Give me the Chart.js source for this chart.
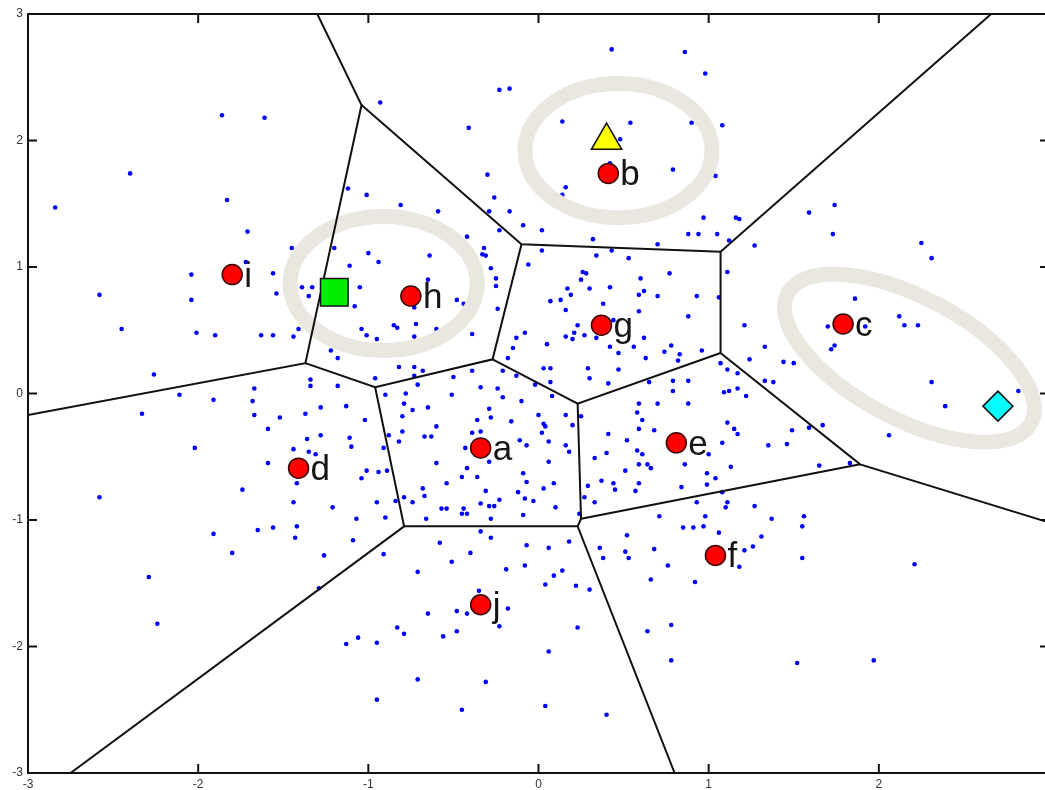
<!DOCTYPE html>
<html>
<head>
<meta charset="utf-8">
<script src="https://cdn.jsdelivr.net/npm/chart.js@4/dist/chart.umd.min.js"></script>
<style>
  html, body { margin: 0; padding: 0; background: #ffffff; overflow: hidden; }
  #plot { display: block; }
</style>
</head>
<body>
<canvas id="plot" width="1045" height="790"></canvas>
<script>
// Axis ticks
const tickValues = [-3, -2, -1, 0, 1, 2, 3];

// Sample points (blue dots)
const samples = [
  [-1.86,2.20],[-1.61,2.18],[-2.40,1.74],[-2.84,1.47],[-1.83,1.53],[-1.71,1.28],[-2.04,0.94],[-2.58,0.78],[-2.04,0.74],[-2.45,0.51],
  [-2.01,0.48],[-1.90,0.46],[-1.63,0.46],[-1.56,0.46],[-1.44,0.45],[-1.41,0.51],[-1.56,0.95],[-1.54,0.79],[-1.45,1.15],[-1.39,0.84],
  [-1.33,0.84],[-1.35,0.77],[-1.72,1.04],[-2.26,0.15],[-0.93,2.30],[-0.23,2.40],[-0.17,2.41],[-0.41,2.10],[-1.12,1.62],[-1.01,1.57],
  [-0.81,1.49],[-0.59,1.44],[-0.30,1.73],[-0.26,1.55],[-0.29,1.44],[-0.17,1.44],[-0.09,1.33],[-0.23,1.29],[-0.42,1.24],[-0.32,1.15],
  [-0.31,1.09],[-0.33,1.10],[-0.28,0.99],[-0.25,0.91],[-0.25,0.85],[-0.06,1.02],[-0.24,0.67],[-0.48,0.74],[-0.44,0.71],[-0.65,0.90],
  [-0.64,1.09],[-0.94,1.04],[-1.00,1.11],[-1.11,1.01],[-1.20,1.15],[-1.05,0.84],[-1.08,0.69],[-1.04,0.51],[-1.01,0.46],[-0.95,0.43],
  [-0.85,0.54],[-0.83,0.52],[-0.72,0.55],[-0.73,0.45],[-0.39,0.47],[-0.13,0.44],[-0.08,0.48],[-0.15,0.36],[-0.18,0.28],[-0.73,0.68],
  [-0.60,0.51],[-1.22,0.34],[-1.18,0.28],[-0.82,0.21],[-0.73,0.21],[-0.68,0.18],[-0.73,0.14],[-0.96,0.12],[-1.34,0.11],[-1.34,0.06],
  [-1.18,0.06],[-1.67,0.04],[-0.71,0.07],[-0.50,0.13],[-0.39,0.18],[-0.34,0.05],[-0.24,0.04],[-0.02,0.07],[-0.13,0.14],[-0.21,0.18],
  [-0.78,0.00],
  [0.43,2.72],[0.86,2.70],[0.98,2.53],[0.14,2.15],[0.54,2.14],[0.90,2.14],[1.08,2.12],[0.48,2.01],[0.42,1.82],[0.79,1.77],
  [0.16,1.63],[0.14,1.57],[1.04,1.72],[0.02,1.29],[0.32,1.22],[0.97,1.39],[1.16,1.39],[1.18,1.38],[0.88,1.26],[0.94,1.26],
  [1.05,1.26],[1.12,1.21],[0.70,1.18],[1.27,1.17],[0.02,1.13],[0.43,1.13],[0.34,1.09],[0.53,1.07],[1.59,1.43],[1.74,1.49],
  [1.73,1.26],[2.25,1.19],[2.31,1.07],[1.11,0.96],[0.77,0.95],[0.26,0.96],[0.28,0.95],[0.25,0.90],[0.60,0.91],[0.17,0.83],
  [0.19,0.78],[0.30,0.83],[0.42,0.84],[0.59,0.78],[0.62,0.81],[0.70,0.77],[0.93,0.77],[1.06,0.76],[0.07,0.73],[0.13,0.74],
  [0.16,0.66],[0.38,0.71],[0.59,0.65],[0.88,0.61],[0.23,0.54],[0.21,0.48],[0.16,0.45],[0.20,0.43],[0.27,0.46],[0.44,0.58],
  [0.34,0.44],[0.05,0.39],[0.42,0.37],[0.47,0.32],[0.56,0.37],[0.62,0.44],[0.78,0.38],[0.74,0.33],[0.83,0.31],[0.96,0.34],
  [0.63,0.28],[0.82,0.26],[0.03,0.20],[0.07,0.20],[0.29,0.20],[0.47,0.19],[0.30,0.12],[0.41,0.08],[0.07,0.09],[0.65,0.09],
  [0.79,0.10],[0.88,0.10],[0.79,0.02],[1.07,0.24],[1.11,0.19],[1.17,0.16],[1.09,0.01],[1.12,0.02],[1.17,0.04],[1.21,0.54],
  [1.33,0.37],[1.24,0.27],[1.44,0.25],[1.33,0.10],[1.38,0.09],[1.64,0.96],[1.86,0.75],[2.12,0.61],[2.15,0.54],[2.23,0.54],
  [1.92,0.53],[1.72,0.35],[1.74,0.38],[2.31,0.09],[2.82,0.02],[1.70,0.53],[1.50,0.24],
  [-2.33,-0.16],[-2.11,-0.01],[-1.91,-0.05],[-1.68,-0.06],[-1.67,-0.17],[-1.52,-0.19],[-1.37,-0.16],[-1.28,-0.11],[-1.13,-0.10],[-1.59,-0.28],
  [-1.36,-0.36],[-1.28,-0.33],[-1.11,-0.35],[-1.10,-0.42],[-2.02,-0.43],[-1.44,-0.44],[-1.35,-0.46],[-1.31,-0.48],[-1.59,-0.55],[-1.42,-0.71],
  [-1.74,-0.76],[-2.58,-0.82],[-1.44,-0.86],[-1.21,-0.90],[-1.07,-0.99],[-1.91,-1.11],[-1.65,-1.08],[-1.56,-1.06],[-1.42,-1.05],[-1.43,-1.14],
  [-1.09,-1.16],[-1.80,-1.26],[-1.26,-1.28],[-2.29,-1.45],[-1.29,-1.54],[-2.24,-1.82],[-1.02,-0.21],[-1.01,-0.61],[-0.94,-0.62],[-0.89,-0.61],
  [-1.04,-0.67],[-0.95,-0.86],[-0.90,-0.98],[-0.91,-1.27],[-0.91,-0.43],[-0.88,-0.33],[-0.90,-0.01],[-0.79,-0.08],[-0.74,-0.13],[-0.65,-0.11],
  [-0.80,-0.18],[-0.80,-0.30],[-0.82,-0.38],[-0.67,-0.34],[-0.63,-0.34],[-0.60,-0.26],[-0.60,-0.55],[-0.84,-0.85],[-0.79,-0.82],[-0.74,-0.86],
  [-0.68,-0.75],[-0.67,-0.81],[-0.66,-0.99],[-0.57,-0.91],[-0.54,-0.91],[-0.54,-0.71],[-0.45,-0.66],[-0.42,-0.59],[-0.36,-0.66],[-0.43,-0.43],
  [-0.39,-0.31],[-0.34,-0.30],[-0.36,-0.21],[-0.29,-0.12],[-0.28,-0.19],[-0.29,-0.54],[-0.31,-0.77],[-0.34,-0.87],[-0.29,-0.89],[-0.26,-0.89],
  [-0.23,-0.84],[-0.44,-0.91],[-0.45,-0.95],[-0.42,-0.95],[-0.28,-0.99],[-0.16,-0.22],[-0.11,-0.37],[-0.07,-0.41],[-0.09,-0.63],[-0.07,-0.70],
  [-0.12,-0.78],[-0.08,-0.83],[-0.03,-0.85],[-0.09,-0.96],[-0.21,-0.03],[-0.10,-0.06],[-0.51,-0.01],[-0.58,-1.18],[-0.40,-1.26],[-0.34,-1.09],
  [-0.28,-1.14],[-0.51,-1.33],[-0.71,-1.41],[-0.19,-1.39],[-0.08,-1.36],[-0.07,-1.20],[-0.35,-1.56],[-0.65,-1.74],[-0.48,-1.72],[-0.42,-1.74],
  [-0.18,-1.70],[-0.23,-1.84],[-0.83,-1.85],[-0.79,-1.90],[-0.48,-1.88],[-0.56,-1.92],[-1.06,-1.93],[-1.13,-1.98],[-0.95,-1.97],[-0.71,-2.26],
  [-0.31,-2.28],[-0.95,-2.42],[-0.45,-2.50],
  [0.08,-0.02],[0.00,-0.17],[0.03,-0.24],[0.04,-0.26],[0.02,-0.31],[0.06,-0.38],[0.16,-0.17],[0.20,-0.25],[0.25,-0.18],[0.16,-0.41],
  [0.18,-0.46],[0.06,-0.54],[0.09,-0.71],[0.03,-0.75],[0.10,-0.90],[0.24,-0.95],[0.29,-0.73],[0.27,-0.82],[0.33,-0.86],[0.33,-0.51],
  [0.40,-0.47],[0.37,-0.69],[0.44,-0.71],[0.45,-0.76],[0.41,-0.32],[0.52,-0.37],[0.51,-0.61],[0.58,-0.45],[0.61,-0.48],[0.59,-0.56],
  [0.64,-0.56],[0.66,-0.59],[0.59,-0.71],[0.57,-0.77],[0.59,-0.08],[0.58,-0.15],[0.61,-0.21],[0.59,-0.28],[0.68,-0.29],[0.70,-0.08],
  [0.88,-0.08],[1.11,-0.23],[1.15,-0.28],[1.17,-0.32],[1.08,-0.39],[0.86,-0.56],[1.00,-0.48],[0.99,-0.63],[1.04,-0.67],[0.99,-0.72],
  [1.13,-0.58],[0.84,-0.74],[1.08,-0.78],[1.11,-0.86],[1.10,-0.90],[0.93,-0.86],[0.98,-0.97],[0.97,-1.05],[0.91,-1.06],[0.85,-1.06],
  [0.71,-0.97],[1.06,-1.10],[1.27,-0.89],[1.37,-0.99],[1.56,-0.97],[1.55,-1.05],[1.31,-1.13],[1.26,-1.21],[1.21,-1.24],[1.18,-1.37],
  [1.55,-1.30],[2.21,-1.35],[1.35,-0.41],[1.46,-0.40],[1.49,-0.29],[1.59,-0.27],[1.67,-0.25],[1.65,-0.57],[1.83,-0.55],[2.06,-0.33],
  [2.39,-0.10],[1.22,-0.02],[0.52,-1.12],[0.36,-1.22],[0.38,-1.30],[0.51,-1.25],[0.53,-1.30],[0.68,-1.23],[0.76,-1.36],[0.66,-1.47],
  [0.92,-1.49],[0.18,-1.17],[0.06,-1.22],[0.14,-1.40],[0.09,-1.44],[0.04,-1.51],[0.22,-1.52],[0.30,-1.55],[0.23,-1.85],[0.06,-2.04],
  [0.64,-1.88],[0.78,-1.83],[0.78,-2.11],[1.52,-2.13],[1.97,-2.11],[0.04,-2.47],[0.40,-2.54]
];

// Cluster centres (red circles) and their names
const siteNames = ['a', 'b', 'c', 'd', 'e', 'f', 'g', 'h', 'i', 'j'];
const siteX = [-0.34, 0.41, 1.79, -1.41, 0.81, 1.04, 0.37, -0.75, -1.80, -0.34];
const siteY = [-0.43, 1.74, 0.55, -0.59, -0.39, -1.28, 0.54, 0.77, 0.94, -1.67];

// Query markers: triangle, square, diamond
const probeX = [0.40, -1.20, 2.70];
const probeY = [2.00, 0.80, -0.10];

// Highlight rings: centre, semi-axes (x units, y units), tilt in degrees
const ringX = [-0.91, 0.47, 2.18];
const ringY = [0.87, 1.92, 0.28];
const ringRX = [0.55, 0.55, 0.81];
const ringRY = [0.53, 0.53, 0.48];
const ringTilt = [0, 0, 28];

// Voronoi cell boundaries as polylines
const cellEdges = [
  [[-1.30, 3.00], [-1.04, 2.28], [-1.37, 0.24], [-3.00, -0.17]],
  [[-1.04, 2.28], [-0.10, 1.18], [1.07, 1.12], [2.66, 3.00]],
  [[-1.37, 0.24], [-0.96, 0.05], [-0.27, 0.27], [-0.10, 1.18]],
  [[1.07, 1.12], [1.07, 0.32], [1.89, -0.56], [3.00, -1.02]],
  [[-0.27, 0.27], [0.23, -0.08], [1.07, 0.32]],
  [[0.23, -0.08], [0.25, -0.99], [1.89, -0.56]],
  [[0.25, -0.99], [0.23, -1.05], [0.80, -3.00]],
  [[-0.96, 0.05], [-0.79, -1.05], [0.23, -1.05]],
  [[-0.79, -1.05], [-2.75, -3.00]]
];

const edgeDatasets = cellEdges.map(path => ({
  type: 'scatter',
  data: path.map(p => ({ x: p[0], y: p[1] })),
  showLine: true,
  borderColor: '#111111',
  borderWidth: 2,
  pointRadius: 0,
  tension: 0,
  fill: false,
  order: 2
}));

// The plot box runs a few pixels past the right edge of the canvas
const overhangPlugin = {
  id: 'overhang',
  afterLayout(chart) {
    const extra = 4;
    const xs = chart.scales.x;
    xs.right += extra;
    xs.width += extra;
    xs.configure();
    chart.chartArea.right += extra;
    chart.chartArea.width += extra;
  }
};

// Rings are painted right after the blue samples so lines and markers sit on top
const ringPlugin = {
  id: 'rings',
  afterDatasetDraw(chart, args) {
    if (args.index !== 0) return;
    const { ctx, chartArea } = chart;
    const xs = chart.scales.x, ys = chart.scales.y;
    ctx.save();
    ctx.beginPath();
    ctx.rect(chartArea.left, chartArea.top, chartArea.right - chartArea.left, chartArea.bottom - chartArea.top);
    ctx.clip();
    ctx.strokeStyle = '#e9e7df';
    ctx.lineWidth = 15;
    for (let i = 0; i < ringX.length; i++) {
      const cx = xs.getPixelForValue(ringX[i]);
      const cy = ys.getPixelForValue(ringY[i]);
      const rx = Math.abs(xs.getPixelForValue(ringX[i] + ringRX[i]) - cx);
      const ry = Math.abs(ys.getPixelForValue(ringY[i] + ringRY[i]) - cy);
      ctx.beginPath();
      ctx.ellipse(cx, cy, rx, ry, ringTilt[i] * Math.PI / 180, 0, Math.PI * 2);
      ctx.stroke();
    }
    ctx.restore();
  }
};

// Letter next to each cluster centre
const labelPlugin = {
  id: 'siteLabels',
  afterDatasetsDraw(chart) {
    const { ctx } = chart;
    const xs = chart.scales.x, ys = chart.scales.y;
    ctx.save();
    ctx.font = '35px "Liberation Sans", Arial, sans-serif';
    ctx.fillStyle = '#151515';
    ctx.textAlign = 'left';
    ctx.textBaseline = 'alphabetic';
    siteNames.forEach((name, i) => {
      const px = xs.getPixelForValue(siteX[i]);
      const py = ys.getPixelForValue(siteY[i]);
      ctx.fillText(name, px + 12, py + 12);
    });
    ctx.restore();
  }
};

// Box frame with inward tick marks on all four sides
const framePlugin = {
  id: 'frame',
  afterDraw(chart) {
    const { ctx, chartArea: a } = chart;
    const xs = chart.scales.x, ys = chart.scales.y;
    const len = 9;
    ctx.save();
    ctx.strokeStyle = '#111111';
    ctx.lineWidth = 2;
    ctx.strokeRect(a.left, a.top, a.right - a.left, a.bottom - a.top);
    ctx.beginPath();
    tickValues.forEach(v => {
      const px = xs.getPixelForValue(v);
      ctx.moveTo(px, a.bottom); ctx.lineTo(px, a.bottom - len);
      ctx.moveTo(px, a.top); ctx.lineTo(px, a.top + len);
      const py = ys.getPixelForValue(v);
      ctx.moveTo(a.left, py); ctx.lineTo(a.left + len, py);
      ctx.moveTo(a.right, py); ctx.lineTo(a.right - len, py);
    });
    ctx.stroke();
    ctx.restore();
  }
};

const tickFont = { family: '"Liberation Sans", Arial, sans-serif', size: 12 };

new Chart(document.getElementById('plot'), {
  type: 'scatter',
  data: {
    datasets: [
      {
        data: samples.map(p => ({ x: p[0], y: p[1] })),
        pointRadius: 2.3,
        pointBackgroundColor: '#0000ff',
        pointBorderWidth: 0,
        order: 3
      },
      ...edgeDatasets,
      {
        data: siteX.map((x, i) => ({ x, y: siteY[i] })),
        pointRadius: 10,
        pointBackgroundColor: '#ff0000',
        pointBorderColor: '#3a0000',
        pointBorderWidth: 1.5,
        order: 1
      },
      {
        data: probeX.map((x, i) => ({ x, y: probeY[i] })),
        pointStyle: ['triangle', 'rect', 'rectRot'],
        pointRadius: [17.5, 19.5, 15],
        pointBackgroundColor: ['#ffff00', '#00ee00', '#00ffff'],
        pointBorderColor: '#111111',
        pointBorderWidth: 1.5,
        order: 0
      }
    ]
  },
  options: {
    responsive: false,
    animation: false,
    events: [],
    layout: { autoPadding: false, padding: { top: 14, right: 0, left: 0, bottom: 0 } },
    plugins: { legend: { display: false }, tooltip: { enabled: false } },
    scales: {
      x: {
        type: 'linear', min: -3, max: 3,
        afterBuildTicks: s => { s.ticks = tickValues.map(v => ({ value: v })); },
        afterFit: s => { s.height = 17; s.paddingLeft = 0; s.paddingRight = 0; },
        grid: { display: false, drawTicks: false },
        border: { display: false },
        ticks: { padding: 4, font: tickFont, color: '#333333', maxRotation: 0, autoSkip: false }
      },
      y: {
        type: 'linear', min: -3, max: 3,
        afterBuildTicks: s => { s.ticks = tickValues.map(v => ({ value: v })); },
        afterFit: s => { s.width = 28; s.paddingTop = 0; s.paddingBottom = 0; },
        grid: { display: false, drawTicks: false },
        border: { display: false },
        ticks: { padding: 5, font: tickFont, color: '#333333', autoSkip: false }
      }
    }
  },
  plugins: [overhangPlugin, ringPlugin, labelPlugin, framePlugin]
});
</script>
</body>
</html>
